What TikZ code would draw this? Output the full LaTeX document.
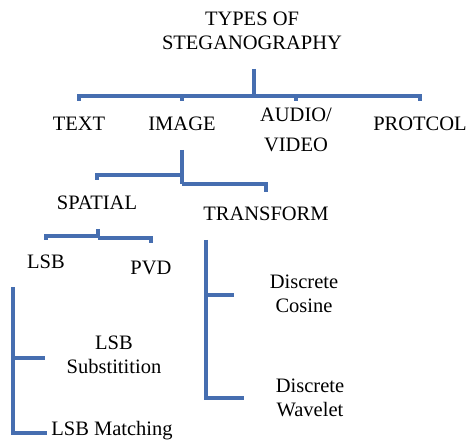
\documentclass[tikz,border=0pt]{standalone}
\usepackage{fontspec}
\setmainfont{Liberation Serif}
\usetikzlibrary{positioning}
\definecolor{linkblue}{RGB}{70,110,176}

\begin{document}
\begin{tikzpicture}[x=1pt, y=-1pt, every node/.style={font=\fontsize{20.5}{24}\selectfont, inner sep=0pt, align=center}, link/.style={draw=linkblue, line width=3.7pt}]
\useasboundingbox (0,0) rectangle (469,441);
\node (root) at (252,31) {TYPES OF\\STEGANOGRAPHY};
\node (text) at (79,124) {TEXT};
\node (image) at (182,124) {IMAGE};
\node (audio) at (296,130) {AUDIO/\\[6pt]VIDEO};
\node (protcol) at (420,124) {PROTCOL};
\node (spatial) at (97,203) {SPATIAL};
\node (transform) at (266,214) {TRANSFORM};
\node (lsb) at (46,262) {LSB};
\node (pvd) at (151,268) {PVD};
\node (dct) at (304,294) {Discrete\\Cosine};
\node (lsbs) at (114,355) {LSB\\Substitition};
\node (dwt) at (310,398) {Discrete\\Wavelet};
\node (lsbm) at (112,431) {LSB Matching};

\coordinate (rootstem) at (254,69);
\coordinate (rootbar) at (254,96);
\coordinate (roottick) at (0,101);
\draw[link] (rootstem) -- (rootbar);
\foreach \n in {text,image,audio,protcol}
  \draw[link] (rootbar) -| (\n |- roottick);

\coordinate (imagestem) at (182,150);
\coordinate (imagefork) at (182,175);
\coordinate (imagebar) at (182,184);
\draw[link] (imagestem) -- (imagebar);
\draw[link] (imagefork) -| (spatial |- 0,180);
\draw[link] (imagebar) -| (transform |- 0,192);

\coordinate (spatialstem) at (98,229);
\coordinate (spatialfork) at (98,236);
\coordinate (spatialbar) at (98,238);
\draw[link] (spatialstem) -- (spatialbar);
\draw[link] (spatialfork) -| (lsb |- 0,240);
\draw[link] (spatialbar) -| (pvd |- 0,243);

\coordinate (transformstem) at (206,240);
\draw[link] (transformstem) |- ([xshift=-32pt]dwt.west);
\draw[link] ([xshift=-36pt,yshift=-1pt]dct.west) -| (transformstem);

\coordinate (lsbstem) at (13,287);
\draw[link] (lsbstem) |- ([xshift=-4pt,yshift=-2pt]lsbm.west);
\draw[link] ([xshift=-22pt,yshift=-3pt]lsbs.west) -| (lsbstem);
\end{tikzpicture}
\end{document}
